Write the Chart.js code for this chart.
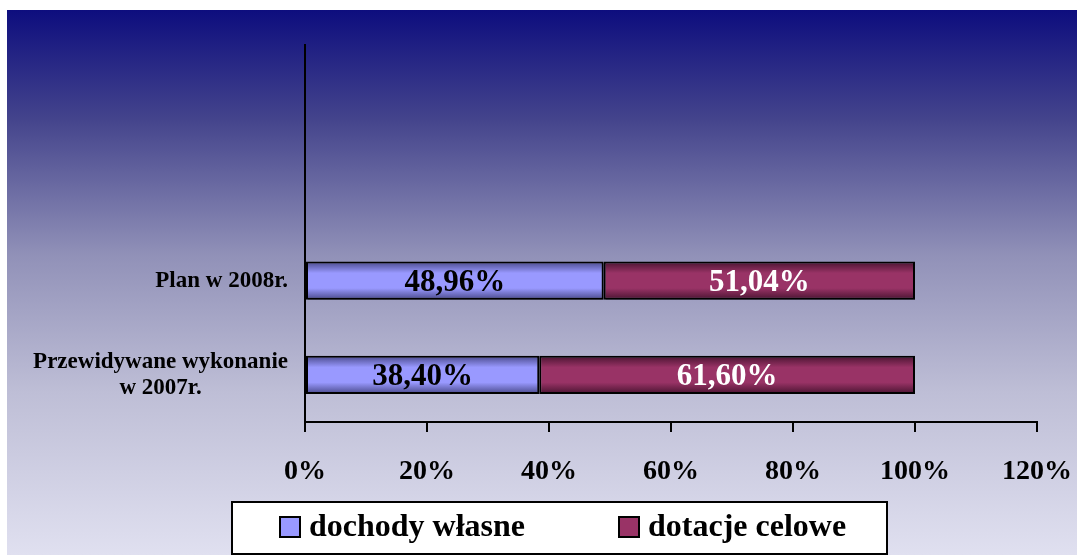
<!DOCTYPE html>
<html>
<head>
<meta charset="utf-8">
<script src="https://cdn.jsdelivr.net/npm/chart.js@4/dist/chart.umd.min.js"></script>
<style>
  html, body { margin: 0; padding: 0; background: #fff; }
  #wrap { position: relative; width: 1077px; height: 555px; }
</style>
</head>
<body>
<div id="wrap"><canvas id="chart"></canvas></div>
<script>
// data
const categories = ['', '', 'Plan w 2008r.', ['Przewidywane wykonanie', 'w 2007r.']];
const dochodyWlasne = [null, null, 48.96, 38.40];
const dotacjeCelowe = [null, null, 51.04, 61.60];
const seriesNames = ['dochody własne', 'dotacje celowe'];
const xMin = 0, xMax = 120, xStep = 20;

const SERIF = '"Liberation Serif", "Times New Roman", serif';

// vertical shading across each bar, darker at the edges
function barFill(ctx, edge, mid) {
    const chart = ctx.chart;
    const y = chart.scales.y;
    if (!y || ctx.dataIndex == null || !chart.chartArea) return mid;
    const c = y.getPixelForValue(ctx.dataIndex);
    const half = y.height / categories.length * 0.2;
    const g = chart.ctx.createLinearGradient(0, c - half, 0, c + half);
    g.addColorStop(0, edge);
    g.addColorStop(0.3, mid);
    g.addColorStop(0.7, mid);
    g.addColorStop(1, edge);
    return g;
}

const fmt = v => v.toFixed(2).replace('.', ',') + '%';

const backgroundPlugin = {
    id: 'bg',
    beforeDraw(chart) {
        const ctx = chart.ctx;
        ctx.save();
        ctx.fillStyle = '#fff';
        ctx.fillRect(0, 0, chart.width, chart.height);
        const g = ctx.createLinearGradient(0, 10, 0, chart.height);
        g.addColorStop(0, 'rgb(13,13,126)');
        g.addColorStop(0.2, 'rgb(68,68,140)');
        g.addColorStop(0.45, 'rgb(145,145,184)');
        g.addColorStop(0.7, 'rgb(190,190,214)');
        g.addColorStop(1, 'rgb(224,224,240)');
        ctx.fillStyle = g;
        ctx.fillRect(7, 10, chart.width - 7, chart.height - 10);
        ctx.restore();
    }
};

const categoryLabelPlugin = {
    id: 'catLabels',
    afterDraw(chart) {
        const ctx = chart.ctx;
        const y = chart.scales.y;
        const right = chart.chartArea.left - 17;
        ctx.save();
        ctx.font = 'bold 23px ' + SERIF;
        ctx.fillStyle = '#000';
        ctx.textAlign = 'center';
        ctx.textBaseline = 'middle';
        categories.forEach((lab, i) => {
            const lines = Array.isArray(lab) ? lab : [lab];
            if (!lines.join('')) return;
            const w = Math.max(...lines.map(l => ctx.measureText(l).width));
            const cx = right - w / 2;
            const cy = y.getPixelForValue(i);
            lines.forEach((l, j) => {
                ctx.fillText(l, cx, cy + (j - (lines.length - 1) / 2) * 26);
            });
        });
        ctx.restore();
    }
};

// bar shadows + value labels inside the segments
const valueLabelPlugin = {
    id: 'valueLabels',
    beforeDatasetsDraw(chart) {
        const ctx = chart.ctx;
        ctx.save();
        ctx.shadowColor = 'rgba(0,0,0,0.35)';
        ctx.shadowOffsetX = 2;
        ctx.shadowOffsetY = 2;
    },
    afterDatasetsDraw(chart) {
        const ctx = chart.ctx;
        ctx.restore();
        ctx.save();
        ctx.font = 'bold 31px ' + SERIF;
        ctx.textAlign = 'center';
        ctx.textBaseline = 'middle';
        chart.data.datasets.forEach((ds, di) => {
            const meta = chart.getDatasetMeta(di);
            ctx.fillStyle = di === 0 ? '#000' : '#fff';
            meta.data.forEach((el, i) => {
                const v = ds.data[i];
                if (v == null) return;
                ctx.fillText(fmt(v), (el.x + el.base) / 2, el.y + 2);
            });
        });
        ctx.restore();
    }
};

const legendPlugin = {
    id: 'boxLegend',
    afterDraw(chart) {
        const ctx = chart.ctx;
        ctx.save();
        ctx.fillStyle = '#fff';
        ctx.fillRect(232, 502, 655, 52);
        ctx.strokeStyle = '#000';
        ctx.lineWidth = 2;
        ctx.strokeRect(232, 502, 655, 52);
        const items = [{ x: 280 }, { x: 619 }];
        const fills = ['#9999ff', '#993366'];
        ctx.font = 'bold 32px ' + SERIF;
        ctx.textBaseline = 'middle';
        ctx.textAlign = 'left';
        chart.data.datasets.forEach((ds, i) => {
            const x = items[i].x;
            ctx.fillStyle = fills[i];
            ctx.fillRect(x, 517, 20, 20);
            ctx.strokeRect(x, 517, 20, 20);
            ctx.fillStyle = '#000';
            ctx.fillText(ds.label, x + 29, 528);
        });
        ctx.restore();
    }
};

new Chart(document.getElementById('chart'), {
    type: 'bar',
    data: {
        labels: categories,
        datasets: [
            {
                label: seriesNames[0],
                data: dochodyWlasne,
                backgroundColor: c => barFill(c, '#4a4a8c', '#9999ff'),
                borderColor: '#000',
                borderWidth: 2,
                borderSkipped: false
            },
            {
                label: seriesNames[1],
                data: dotacjeCelowe,
                backgroundColor: c => barFill(c, '#4a1431', '#993366'),
                borderColor: '#000',
                borderWidth: 2,
                borderSkipped: false
            }
        ]
    },
    options: {
        indexAxis: 'y',
        responsive: true,
        maintainAspectRatio: false,
        animation: false,
        layout: { padding: { top: 45, right: 40, bottom: 53, left: 0 } },
        categoryPercentage: 0.8,
        barPercentage: 0.51,
        scales: {
            x: {
                stacked: true,
                min: xMin,
                max: xMax,
                ticks: {
                    stepSize: xStep,
                    color: '#000',
                    padding: 23,
                    font: { family: SERIF, size: 28, weight: 'bold' },
                    callback: v => v + '%'
                },
                grid: {
                    drawOnChartArea: false,
                    drawTicks: true,
                    tickLength: 10,
                    color: '#000',
                    lineWidth: 2
                },
                border: { display: true, color: '#000', width: 2 },
                afterFit: s => {
                    s.height = 80;
                    s.paddingLeft = 0;
                    s.paddingRight = 0;
                }
            },
            y: {
                stacked: true,
                ticks: { display: false },
                grid: { display: false },
                border: { display: true, color: '#000', width: 2 },
                afterFit: s => {
                    s.width = 305;
                    s.paddingTop = 0;
                    s.paddingBottom = 0;
                }
            }
        },
        plugins: {
            legend: { display: false },
            tooltip: { enabled: false }
        }
    },
    plugins: [backgroundPlugin, categoryLabelPlugin, valueLabelPlugin, legendPlugin]
});
</script>
</body>
</html>
